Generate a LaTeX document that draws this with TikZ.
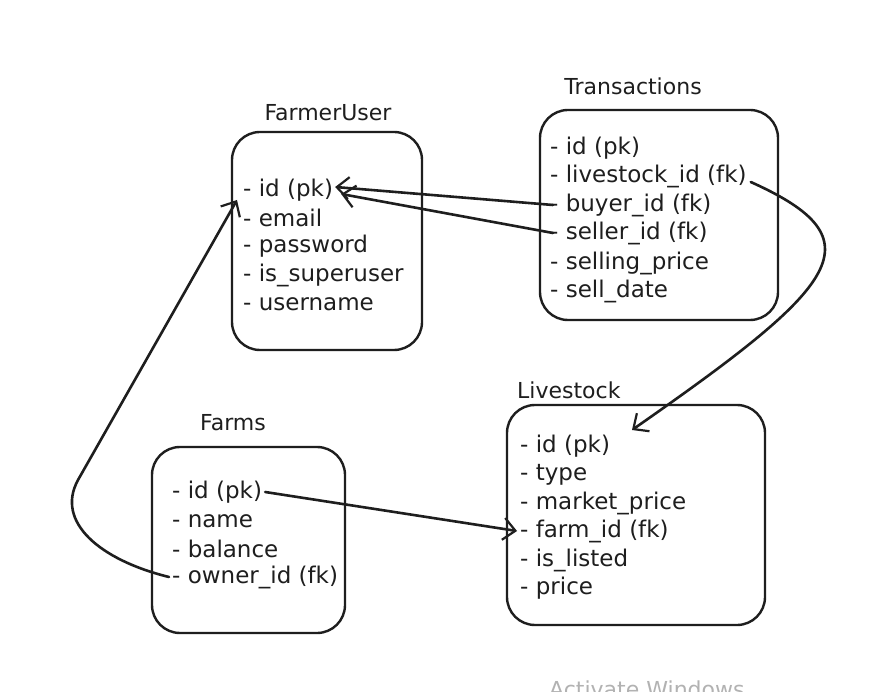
\documentclass[tikz,border=0pt]{standalone}
\usepackage{fontspec}
\setmainfont{DejaVu Sans}
\usetikzlibrary{arrows.meta}
\definecolor{ink}{HTML}{1E1E1E}
\begin{document}
\begin{tikzpicture}[x=1pt,y=-1pt,
  tbl/.style={draw=ink, line width=2.4pt, rounded corners=28pt, inner sep=0pt},
  ttl/.style={font=\fontsize{22}{26}\selectfont, text=ink, inner sep=0pt},
  row/.style={anchor=west, font=\fontsize{23}{27}\selectfont, text=ink, inner sep=0pt},
  conn/.style={draw=ink, line width=2.6pt, line cap=round,
    -{Straight Barb[length=12pt,width=22pt,line width=2.2pt]}},
  wm/.style={font=\fontsize{22}{26}\selectfont, text=black!30, inner sep=0pt, anchor=north west}]
\useasboundingbox[fill=white] (0,0) rectangle (881,692);

% FarmerUser
\node[tbl, minimum width=190pt, minimum height=218pt] (fu) at (327,241) {};
\node[ttl] (fut) at (328,113) {FarmerUser};
\node[row] (fu_id) at (243,190) {- id (pk)};
\node[row] (fu_email) at (243,218) {- email};
\node[row] (fu_pw) at (243,246) {- password};
\node[row] (fu_su) at (243,275) {- is\_superuser};
\node[row] (fu_un) at (243,304) {- username};

% Transactions
\node[tbl, minimum width=238pt, minimum height=210pt] (tr) at (659,215) {};
\node[ttl] (trt) at (633,86) {Transactions};
\node[row] (tr_id) at (550,148) {- id (pk)};
\node[row] (tr_liv) at (550,176) {- livestock\_id (fk)};
\node[row] (tr_buy) at (550,205) {- buyer\_id (fk)};
\node[row] (tr_sel) at (550,233) {- seller\_id (fk)};
\node[row] (tr_sp) at (550,263) {- selling\_price};
\node[row] (tr_sd) at (550,291) {- sell\_date};

% Livestock
\node[tbl, minimum width=258pt, minimum height=220pt] (ls) at (636,515) {};
\node[ttl, anchor=west] (lst) at (517,390) {Livestock};
\node[row] (ls_id) at (520,446) {- id (pk)};
\node[row] (ls_ty) at (520,475) {- type};
\node[row] (ls_mp) at (520,503) {- market\_price};
\node[row] (ls_fa) at (520,531) {- farm\_id (fk)};
\node[row] (ls_il) at (520,560) {- is\_listed};
\node[row] (ls_pr) at (520,588) {- price};

% Farms
\node[tbl, minimum width=193pt, minimum height=186pt] (fo) at (248.5,540) {};
\node[ttl] (fot) at (233,423) {Farms};
\node[row] (fo_id) at (172,492) {- id (pk)};
\node[row] (fo_na) at (172,521) {- name};
\node[row] (fo_ba) at (172,549) {- balance};
\node[row] (fo_ow) at (172,577) {- owner\_id (fk)};

% connectors
\coordinate (tipA) at ([xshift=-6pt,yshift=18pt]fu_email.west);
\coordinate (bend) at (78,480);
\draw[conn] ([xshift=-3pt]fo_ow.west) .. controls (100,560) and (55,522) .. (bend) -- (tipA);

\coordinate (tipB) at ([xshift=2pt,yshift=3pt]fu_id.east);
\coordinate (tipC) at ([xshift=8pt,yshift=-4pt]fu_id.east);
\draw[conn] ([xshift=3pt]tr_buy.west) -- (tipB);
\draw[conn] ([xshift=3pt]tr_sel.west) -- (tipC);

\coordinate (tipD) at (632,430);
\draw[conn] ([xshift=4pt,yshift=-6pt]tr_liv.east) .. controls (880,240) and (840,285) .. (tipD);

\coordinate (tipE) at ([xshift=-3pt]ls_fa.west);
\draw[conn] ([xshift=3pt]fo_id.east) -- (tipE);

% watermark
\node[wm] (wmk) at (549,681) {Activate Windows};
\end{tikzpicture}
\end{document}
